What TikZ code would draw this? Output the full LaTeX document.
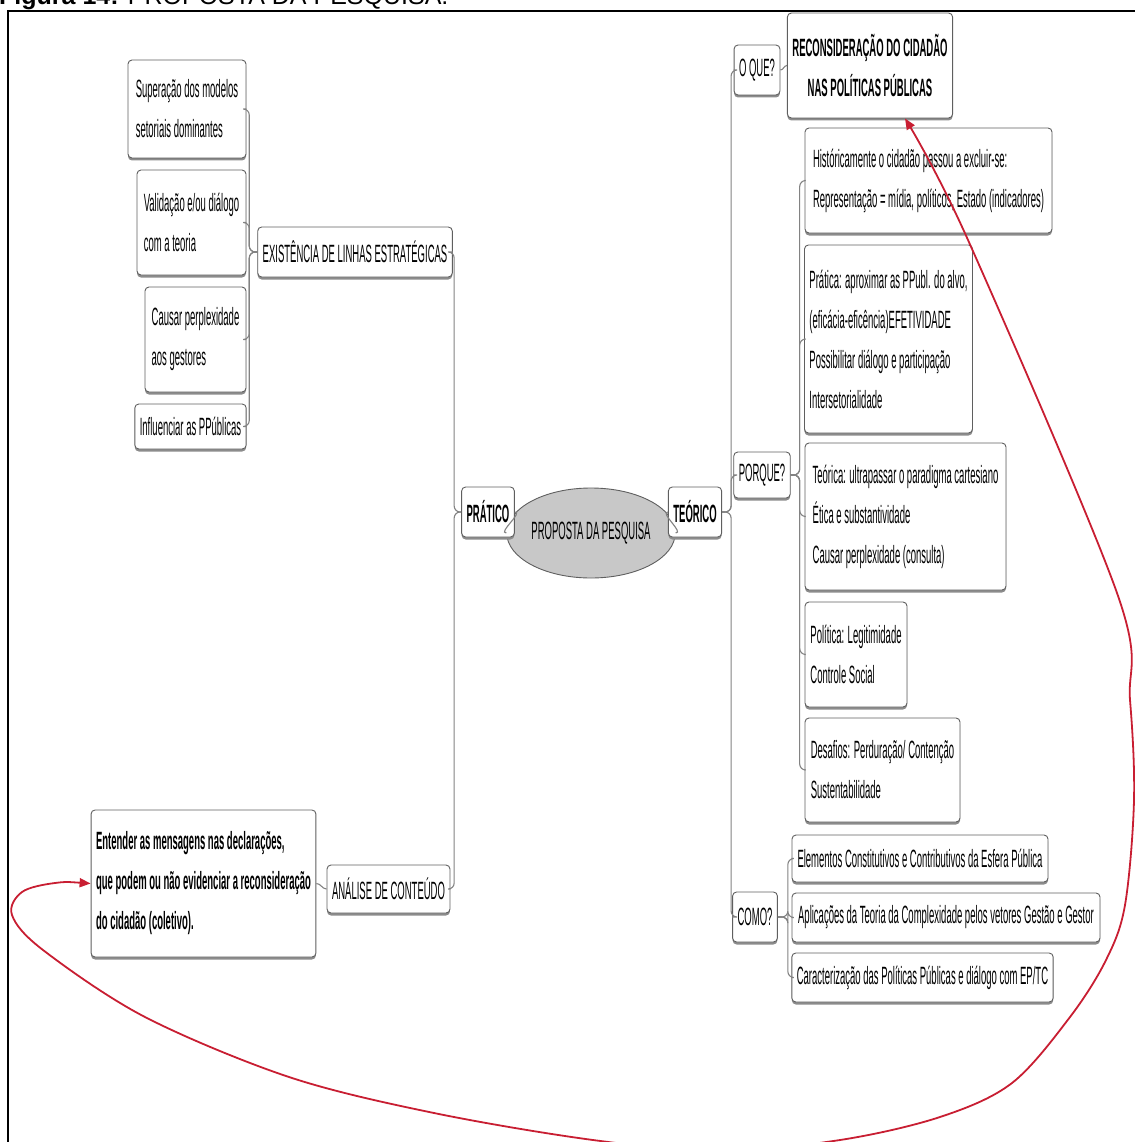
\documentclass[tikz,border=0pt]{standalone}
\usepackage{fontspec}
\setmainfont{Liberation Sans}
\newfontfamily\nfont{Liberation Sans}[FakeStretch=0.38]
\usetikzlibrary{shapes.geometric,arrows.meta,shadows,calc}
\definecolor{boxc}{RGB}{95,95,95}
\definecolor{linec}{RGB}{130,130,130}
\definecolor{redc}{RGB}{200,30,50}
\definecolor{ellfill}{RGB}{200,200,200}
\newcommand\mapfnt{\nfont\fontsize{25}{40}\selectfont}
\newcommand\titlefnt{\fontsize{25}{30}\selectfont}
\begin{document}
\begin{tikzpicture}[x=1pt,y=-1pt,
  box/.style={draw=boxc, fill=white, line width=0.9pt, rounded corners=4pt,
    drop shadow={shadow xshift=0pt, shadow yshift=-2.5pt, fill=black!45, opacity=1},
    inner xsep=5pt, inner ysep=0pt, font=\mapfnt, align=center},
  mbox/.style={box, align=left},
  conn/.style={draw=linec, line width=1.1pt, rounded corners=6pt},
  redline/.style={draw=redc, line width=1.8pt}]
\useasboundingbox (0,0) rectangle (1134,1142);
% frame and title
\node[anchor=base west, inner sep=0pt, font=\titlefnt] (title) at (-1,5) {\textbf{Figura 14:} PROPOSTA DA PESQUISA.};
\draw[line width=2pt] (8,1160) -- (8,11) -- (1150,11);

% centre
\node[ellipse, draw=boxc, fill=ellfill, line width=0.9pt, minimum width=132pt, minimum height=90pt, inner sep=0pt, font=\mapfnt] (prop) at (591,533) {PROPOSTA DA PESQUISA};
\node[box, font=\mapfnt\bfseries, minimum width=46pt, minimum height=50pt] (prat) at (488,512) {PRÁTICO};
\node[box, font=\mapfnt\bfseries, minimum width=44pt, minimum height=50pt] (teo) at (695,512) {TEÓRICO};

% left branch
\node[box, minimum width=186pt, minimum height=50pt] (exist) at (355,252) {EXISTÊNCIA DE LINHAS ESTRATÉGICAS};
\node[mbox, minimum width=118pt, minimum height=98pt] (s1) at (187,109) {Superação dos modelos\\setoriais dominantes};
\node[mbox, minimum width=109pt, minimum height=105pt] (s2) at (191.5,222.5) {Validação e/ou diálogo\\com a teoria};
\node[mbox, minimum width=101pt, minimum height=105pt] (s3) at (195.5,339.5) {Causar perplexidade\\aos gestores};
\node[box, minimum width=111pt, minimum height=45pt] (s4) at (190.5,426.5) {Influenciar as PPúblicas};
\node[box, minimum width=117pt, minimum height=48pt] (anal) at (388.5,889) {ANÁLISE DE CONTEÚDO};
\node[mbox, minimum width=223pt, minimum height=147pt, font=\mapfnt\bfseries] (ent) at (203.5,883.5) {Entender as mensagens nas declarações,\\que podem ou não evidenciar a reconsideração\\do cidadão (coletivo).};

% right branch
\node[box, minimum width=40pt, minimum height=50pt] (oque) at (757,70) {O QUE?};
\node[box, font=\mapfnt\bfseries, minimum width=154pt, minimum height=105pt] (rec) at (870,65.5) {RECONSIDERAÇÃO DO CIDADÃO\\NAS POLÍTICAS PÚBLICAS};
\node[box, minimum width=52pt, minimum height=46pt] (porque) at (762,475) {PORQUE?};
\node[mbox, minimum width=247pt, minimum height=105pt] (p1) at (928.5,180.5) {Históricamente o cidadão passou a excluir-se:\\Representação = mídia, políticos, Estado (indicadores)};
\node[mbox, minimum width=167pt, minimum height=188pt] (p2) at (888.5,339) {Prática: aproximar as PPubl. do alvo,\\(eficácia-eficência)EFETIVIDADE\\Possibilitar diálogo e participação\\Intersetorialidade};
\node[mbox, minimum width=201pt, minimum height=147pt] (p3) at (905.5,516.5) {Teórica: ultrapassar o paradigma cartesiano\\Ética e substantividade\\Causar perplexidade (consulta)};
\node[mbox, minimum width=102pt, minimum height=105pt] (p4) at (856,654.5) {Política: Legitimidade\\Controle Social};
\node[mbox, minimum width=155pt, minimum height=104pt] (p5) at (882.5,770) {Desafios: Perduração/ Contenção\\Sustentabilidade};
\node[box, minimum width=36pt, minimum height=50pt] (como) at (755,917) {COMO?};
\node[box, minimum width=256pt, minimum height=47pt] (c1) at (920,858.5) {Elementos Constitutivos e Contributivos da Esfera Pública};
\node[box, minimum width=308pt, minimum height=49pt] (c2) at (946,917.5) {Aplicações da Teoria da Complexidade pelos vetores Gestão e Gestor};
\node[box, minimum width=261pt, minimum height=49pt] (c3) at (922.5,977.5) {Caracterização das Políticas Públicas e diálogo com EP/TC};

% connectors
\draw[conn] (prop.west) to[out=180,in=0] (prat.east);
\draw[conn] (prop.east) to[out=0,in=180] (teo.west);
\draw[conn] (prat.west) -- ++(-7,0) |- (exist.east);
\draw[conn] (prat.west) -- ++(-7,0) |- (anal.east);
\foreach \n in {s1,s2,s3,s4} \draw[conn] (exist.west) -- ++(-8,0) |- (\n.east);
\draw[conn] (anal.west) to[out=180,in=0] (ent.east);
\foreach \n in {oque,porque,como} \draw[conn] (teo.east) -- ++(9,0) |- (\n.west);
\draw[conn] (oque.east) to[out=0,in=180] (rec.west);
\foreach \n in {p1,p2,p3,p4,p5} \draw[conn] (porque.east) -- ++(9,0) |- (\n.west);
\foreach \n in {c1,c2,c3} \draw[conn] (como.east) -- ++(10,0) |- (\n.west);

% red feedback arrow
\draw[redline, {Triangle[length=11pt,width=9pt]}-{Triangle[length=11pt,width=9pt]}]
  plot[smooth, tension=0.55] coordinates {(ent.west) (55,883) (22,892) (12,915) (43,950) (145,1017) (289,1077) (434,1113) (593,1140) (720,1151) (840,1140) (940,1117) (1012,1083) (1070,1017) (1106,960) (1125,905) (1134,800) (1130,700) (1117,593) (968,240) ($(rec.south)+(35,0)$)};
\end{tikzpicture}
\end{document}
